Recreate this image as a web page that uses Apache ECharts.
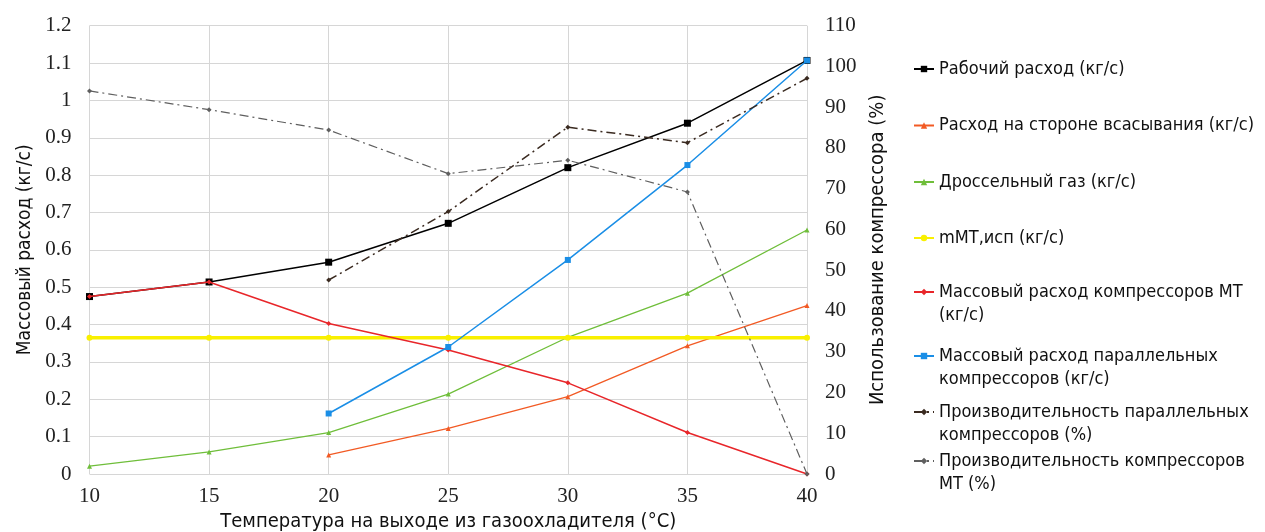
<!DOCTYPE html>
<html>
<head>
<meta charset="utf-8">
<script src="https://cdn.jsdelivr.net/npm/echarts@6/dist/echarts.min.js"></script>
<style>
html,body{margin:0;padding:0;background:#fff;}
#chart{width:1265px;height:532px;}
</style>
</head>
<body>
<div id="chart"></div>
<script>
// ---- data ----
const temps = [10, 15, 20, 25, 30, 35, 40];
const workFlow      = [0.475, 0.514, 0.567, 0.671, 0.820, 0.939, 1.107];
const suctionFlow   = [null, null, 0.051, 0.122, 0.207, 0.343, 0.451];
const flashGas      = [0.021, 0.059, 0.111, 0.214, 0.366, 0.484, 0.653];
const mMTevap       = [0.365, 0.365, 0.365, 0.365, 0.365, 0.365, 0.365];
const mtCompFlow    = [0.475, 0.514, 0.403, 0.332, 0.244, 0.111, 0.0];
const parCompFlow   = [null, null, 0.162, 0.340, 0.573, 0.827, 1.107];
const parCompPerf   = [null, null, 47.6, 64.4, 85.1, 81.3, 97.1];
const mtCompPerf    = [94.0, 89.4, 84.4, 73.7, 77.0, 69.2, 0];

const seriesNames = [
  'Рабочий расход (кг/с)',
  'Расход на стороне всасывания (кг/с)',
  'Дроссельный газ (кг/с)',
  'mMT,исп (кг/с)',
  'Массовый расход компрессоров МТ (кг/с)',
  'Массовый расход параллельных компрессоров (кг/с)',
  'Производительность параллельных компрессоров (%)',
  'Производительность компрессоров МТ (%)'
];
const legendLines = [
  ['Рабочий расход (кг/с)'],
  ['Расход на стороне всасывания (кг/с)'],
  ['Дроссельный газ (кг/с)'],
  ['mMT,исп (кг/с)'],
  ['Массовый расход компрессоров МТ', '(кг/с)'],
  ['Массовый расход параллельных', 'компрессоров (кг/с)'],
  ['Производительность параллельных', 'компрессоров (%)'],
  ['Производительность компрессоров', 'МТ (%)']
];
const xTitle = 'Температура на выходе из газоохладителя (°C)';
const yLeftTitle = 'Массовый расход (кг/с)';
const yRightTitle = 'Использование компрессора (%)';

function pairs(arr){ return temps.map((t,i)=>[t, arr[i]]); }

const condFont = "'Liberation Sans Narrow','DejaVu Sans Condensed','Roboto',sans-serif";
const serifFont = "'Liberation Serif','DejaVu Serif',serif";

const styles = [
  {color:'#000000', width:1.5, symbol:'rect', size:7, type:'solid', axis:0, data:workFlow},
  {color:'#f25a24', width:1.3, symbol:'triangle', size:5, type:'solid', axis:0, data:suctionFlow},
  {color:'#6fbe3a', width:1.3, symbol:'triangle', size:5, type:'solid', axis:0, data:flashGas},
  {color:'#f9f000', width:3.5, symbol:'circle', size:6, type:'solid', axis:0, data:mMTevap},
  {color:'#e8262a', width:1.5, symbol:'diamond', size:5, type:'solid', axis:0, data:mtCompFlow},
  {color:'#1a8ee6', width:1.5, symbol:'rect', size:6, type:'solid', axis:0, data:parCompFlow},
  {color:'#3a2a20', width:1.5, symbol:'diamond', size:5, type:[9,4,2,4], axis:1, data:parCompPerf},
  {color:'#5f5f5f', width:1.2, symbol:'diamond', size:5, type:[9,4,2,4], axis:1, data:mtCompPerf}
];

const series = styles.map((s,i)=>({
  name: seriesNames[i],
  type: 'line',
  yAxisIndex: s.axis,
  data: pairs(s.data),
  symbol: s.symbol,
  symbolSize: s.size,
  showSymbol: true,
  connectNulls: false,
  lineStyle: {color: s.color, width: s.width, type: s.type},
  itemStyle: {color: s.color},
  animation: false,
  z: 2 + i
}));

const legendCenters = [69, 125.5, 182, 238, 292, 356, 412, 461];
const LH = 23.5;
const legends = legendCenters.map((c,i)=>{
  const lines = legendLines[i];
  const twoLine = lines.length > 1;
  // a leading blank line keeps the first text line level with the icon
  const text = twoLine ? ' \n' + lines.join('\n') : lines[0];
  return {
    data: [seriesNames[i]],
    left: 913,
    top: twoLine ? c - LH*1.5 : c - LH/2,
    padding: 0,
    orient: 'vertical',
    itemWidth: 20,
    itemHeight: 8,
    itemGap: 7,
    formatter: () => text,
    textStyle: {
      fontFamily: condFont,
      fontSize: 18,
      color: '#111',
      lineHeight: LH
    },
    selectedMode: false
  };
});

const chart = echarts.init(document.getElementById('chart'));
chart.setOption({
  backgroundColor: '#ffffff',
  animation: false,
  grid: {left: 89.5, right: 458, top: 25.7, bottom: 58, containLabel: false, outerBoundsMode: 'none'},
  legend: legends,
  xAxis: {
    type: 'value', min: 10, max: 40, interval: 5,
    name: xTitle, nameLocation: 'middle', nameGap: 36,
    nameTextStyle: {fontFamily: condFont, fontSize: 20, color: '#111'},
    axisLine: {show: false},
    axisTick: {show: false},
    axisLabel: {fontFamily: serifFont, fontSize: 21, color: '#222', margin: 12},
    splitLine: {show: true, lineStyle: {color: '#d6d6d6', width: 1}}
  },
  yAxis: [
    {
      type: 'value', min: 0, max: 1.2, interval: 0.1,
      name: yLeftTitle, nameLocation: 'middle', nameGap: 55, nameRotate: 90,
      nameTextStyle: {fontFamily: condFont, fontSize: 19, color: '#111'},
      axisLine: {show: false},
      axisTick: {show: false},
      axisLabel: {fontFamily: serifFont, fontSize: 21, color: '#222', margin: 18},
      splitLine: {show: true, lineStyle: {color: '#d6d6d6', width: 1}}
    },
    {
      type: 'value', min: 0, max: 110, interval: 10, position: 'right',
      name: yRightTitle, nameLocation: 'middle', nameGap: 51, nameRotate: 90,
      nameTextStyle: {fontFamily: condFont, fontSize: 20, color: '#111'},
      axisLine: {show: false},
      axisTick: {show: false},
      axisLabel: {fontFamily: serifFont, fontSize: 21, color: '#222', margin: 18},
      splitLine: {show: false}
    }
  ],
  series: series
});
</script>
</body>
</html>
